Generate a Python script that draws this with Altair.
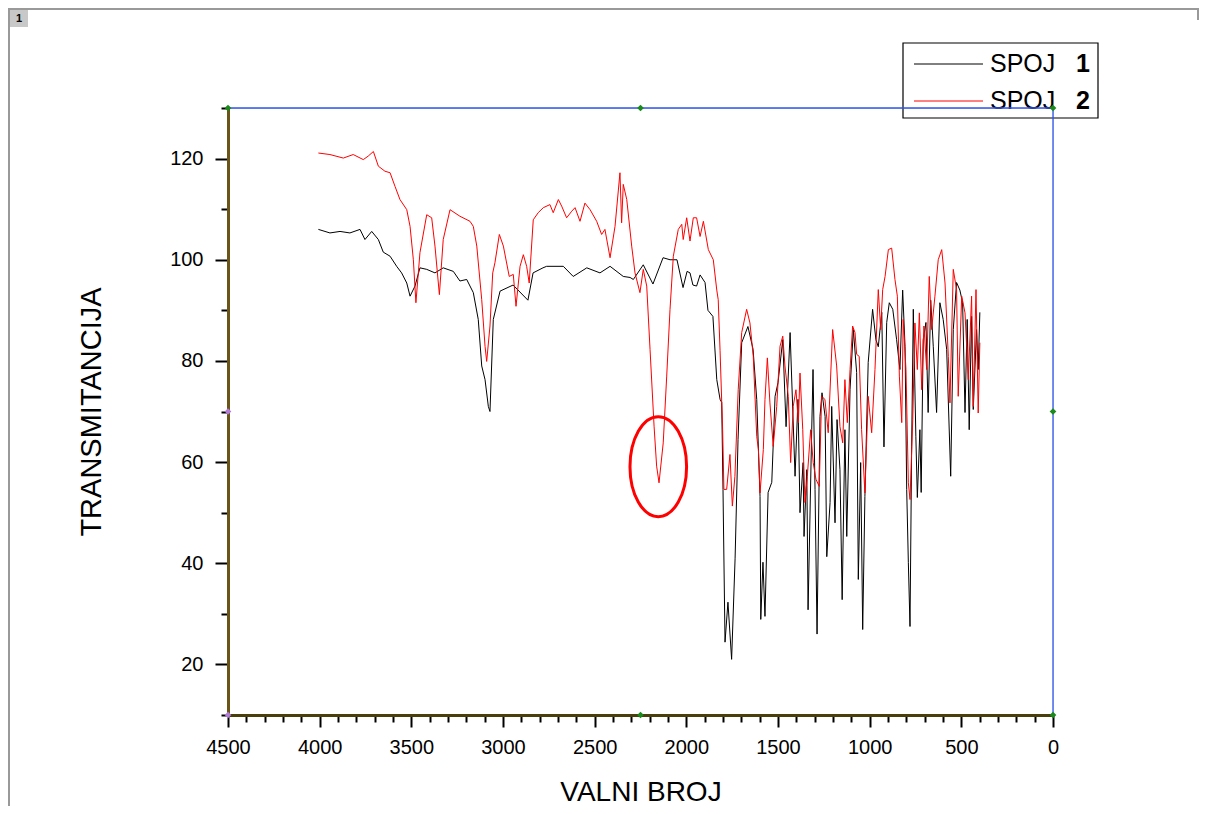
import altair as alt
import pandas as pd

# ---- SPOJ 1 (black) ----
wn1 = [4007, 3944, 3889, 3835, 3780, 3753, 3716, 3680, 3653, 3616, 3580, 3553, 3525, 3507, 3480,
       3453, 3416, 3371, 3326, 3271, 3235, 3198, 3162, 3135, 3116, 3098, 3080, 3071, 3053, 3016,
       2945, 2864, 2836, 2782, 2762, 2671, 2617, 2543, 2471, 2416, 2344, 2307, 2289, 2235, 2182,
       2127, 2089, 2051, 2018, 1996, 1980, 1964, 1944, 1925, 1898, 1882, 1855, 1834, 1816, 1807,
       1800, 1789, 1773, 1753, 1734, 1718, 1698, 1664, 1636, 1616, 1598, 1594, 1582, 1571, 1554,
       1534, 1516, 1500, 1474, 1456, 1434, 1407, 1391, 1380, 1363, 1358, 1343, 1336, 1316, 1309,
       1298, 1287, 1271, 1260, 1243, 1234, 1216, 1207, 1189, 1178, 1162, 1150, 1135, 1125, 1107,
       1089, 1071, 1062, 1049, 1038, 1026, 1008, 984, 966, 953, 934, 922, 907, 893, 874,
       853, 835, 820, 807, 798, 789, 780, 771, 762, 748, 740, 726, 719, 708, 693,
       681, 667, 653, 635, 617, 599, 580, 558, 544, 526, 508, 493, 480, 468, 457,
       444, 435, 417, 408, 399]
t1 = [106.0, 105.3, 105.6, 105.3, 106.0, 104.0, 105.6, 104.0, 101.5, 100.7, 98.7, 97.4, 95.4, 92.8, 94.8,
      98.4, 98.1, 97.4, 98.4, 97.7, 95.8, 96.1, 93.5, 88.2, 79.0, 76.3, 71.0, 70.0, 88.2, 93.8,
      95.0, 92.0, 97.4, 98.4, 98.7, 98.7, 96.7, 98.4, 97.4, 98.7, 96.7, 96.5, 96.1, 99.0, 95.2,
      100.4, 100.0, 100.0, 94.5, 97.7, 97.4, 95.0, 94.8, 97.0, 95.5, 90.0, 88.8, 76.3, 72.4, 71.8,
      54.6, 24.4, 32.3, 21.0, 41.0, 64.5, 83.6, 86.8, 82.3, 72.4, 53.2, 28.9, 40.2, 29.5, 54.0,
      56.0, 73.0, 75.7, 84.2, 67.0, 85.6, 57.2, 72.4, 50.0, 59.9, 45.3, 58.5, 30.8, 66.4, 78.3,
      54.6, 26.0, 69.0, 73.7, 69.0, 41.3, 52.0, 71.0, 48.0, 68.4, 58.5, 32.8, 66.4, 45.3, 74.4,
      86.2, 77.7, 36.8, 59.9, 26.9, 53.2, 79.7, 90.2, 84.2, 82.8, 89.6, 63.0, 87.6, 91.5, 90.2,
      84.2, 78.3, 94.0, 82.8, 54.6, 40.1, 27.5, 63.0, 90.2, 65.0, 53.0, 66.4, 54.0, 84.2, 87.6,
      69.8, 92.0, 82.8, 69.8, 91.5, 88.2, 82.3, 57.2, 86.2, 95.5, 94.0, 91.5, 69.8, 88.2, 66.4,
      88.8, 70.4, 86.2, 78.3, 89.6]

# ---- SPOJ 2 (red) ----
wn2 = [4007, 3944, 3871, 3817, 3762, 3735, 3707, 3680, 3644, 3616, 3589, 3562, 3525, 3507, 3489,
       3475, 3453, 3416, 3389, 3371, 3347, 3326, 3289, 3235, 3180, 3162, 3143, 3116, 3098, 3089,
       3071, 3056, 3044, 3020, 2998, 2966, 2944, 2929, 2907, 2889, 2871, 2857, 2835, 2808, 2780,
       2744, 2726, 2698, 2680, 2653, 2625, 2607, 2580, 2553, 2525, 2489, 2462, 2444, 2416, 2389,
       2362, 2353, 2344, 2325, 2298, 2280, 2253, 2235, 2216, 2198, 2176, 2162, 2149, 2126, 2107,
       2089, 2071, 2044, 2025, 2017, 1998, 1980, 1962, 1944, 1925, 1907, 1880, 1853, 1834, 1826,
       1816, 1802, 1795, 1780, 1762, 1749, 1735, 1717, 1698, 1671, 1653, 1635, 1616, 1607, 1598,
       1580, 1571, 1558, 1544, 1526, 1507, 1489, 1474, 1462, 1444, 1431, 1417, 1402, 1389, 1380,
       1365, 1353, 1340, 1322, 1308, 1293, 1275, 1262, 1244, 1226, 1202, 1180, 1162, 1147, 1135,
       1122, 1107, 1093, 1080, 1071, 1057, 1044, 1026, 1008, 989, 971, 953, 940, 929, 916,
       898, 880, 862, 849, 838, 825, 817, 802, 789, 780, 765, 753, 740, 729, 716,
       704, 689, 675, 662, 644, 626, 607, 589, 571, 562, 544, 526, 517, 498, 480,
       462, 444, 435, 420, 408, 399]
t2 = [121.1, 120.8, 120.1, 120.8, 119.8, 120.5, 121.4, 118.5, 117.5, 117.2, 114.5, 111.9, 109.9, 106.6, 100.0,
      91.5, 101.4, 108.9, 108.3, 102.7, 93.1, 104.0, 109.9, 108.6, 107.6, 106.6, 102.7, 92.1, 82.9, 79.9,
      86.9, 97.4, 99.4, 105.0, 102.7, 96.7, 97.1, 90.8, 98.7, 101.0, 98.7, 95.4, 107.9, 109.3, 110.3,
      110.9, 109.3, 111.9, 110.6, 108.3, 109.6, 110.3, 107.6, 111.2, 109.9, 107.6, 105.0, 106.0, 100.4, 106.6,
      117.2, 107.3, 114.9, 111.9, 102.7, 97.4, 93.5, 98.1, 94.8, 82.3, 67.1, 59.2, 55.9, 63.8, 77.0,
      90.2, 100.7, 106.0, 107.0, 104.0, 108.3, 103.7, 108.3, 108.3, 104.6, 107.6, 102.0, 100.0, 94.0, 92.1,
      82.0, 66.4, 54.6, 54.6, 61.5, 51.3, 57.2, 74.3, 85.6, 90.2, 87.5, 80.9, 65.1, 62.5, 53.9,
      62.5, 72.4, 80.6, 71.7, 63.1, 71.0, 82.9, 84.9, 79.0, 73.0, 59.9, 71.0, 74.3, 67.8, 77.6,
      66.4, 52.0, 57.2, 66.4, 59.9, 56.6, 55.2, 73.0, 72.4, 65.8, 86.2, 79.0, 67.0, 63.8, 76.3,
      67.8, 78.3, 86.9, 85.6, 81.3, 80.9, 66.4, 53.9, 73.0, 65.8, 78.3, 94.1, 86.2, 94.1, 96.7,
      102.0, 102.3, 96.1, 92.8, 77.0, 67.8, 88.2, 78.3, 55.9, 52.6, 68.4, 87.5, 78.3, 89.5, 74.3,
      86.9, 78.3, 96.7, 86.2, 92.8, 100.0, 102.0, 95.4, 80.9, 71.7, 98.1, 94.1, 73.0, 92.8, 89.5,
      76.3, 92.8, 71.0, 94.1, 69.7, 83.6]

series_names = ["SPOJ 1", "SPOJ 2"]
series_colors = ["#000000", "#ff0000"]
x_ticks = list(range(0, 4501, 100))
y_ticks = list(range(10, 131, 10))

# annotation ellipse centre (data units)
ellipse_x = [2153]
ellipse_y = [59.1]

# Origin-style selection handles on the frame
green_hx = [4500, 2250, 0, 0, 2250, 0]
green_hy = [130, 130, 130, 70, 10, 10]
purple_hx = [4500, 4500]
purple_hy = [70, 10]

df = pd.concat([
    pd.DataFrame({"wn": wn1, "T": t1, "s": series_names[0]}),
    pd.DataFrame({"wn": wn2, "T": t2, "s": series_names[1]}),
])

W, H = 825, 607
xs = alt.Scale(domain=[4500, 0], nice=False, zero=False)
ys = alt.Scale(domain=[10, 130], nice=False, zero=False)
FONT = "Liberation Sans"
BLUE = "#2f55ee"

x_axis = alt.Axis(
    values=x_ticks, title="VALNI BROJ", grid=False,
    labelExpr="datum.value % 500 === 0 ? datum.label : ''",
    labelOverlap=False, labelFlush=False,
    tickSize={"condition": {"test": "datum.value % 500 === 0", "value": 12}, "value": 7},
    tickWidth=2, tickColor="#000000",
    domainColor="#4a3e0a", domainWidth=3,
    labelFont=FONT, labelFontSize=20, labelColor="#000000", labelPadding=10,
    titleFont=FONT, titleFontSize=28, titleFontWeight="normal", titleColor="#000000", titlePadding=21,
    format="d",
)
y_axis = alt.Axis(
    values=y_ticks, title="TRANSMITANCIJA", grid=False,
    labelExpr="datum.value % 20 === 0 ? datum.label : ''",
    labelOverlap=False, labelFlush=False,
    tickSize={"condition": {"test": "datum.value % 20 === 0", "value": 13}, "value": 7},
    tickWidth=2, tickColor="#000000",
    domainColor="#6b5516", domainWidth=3,
    labelFont=FONT, labelFontSize=20, labelColor="#000000", labelPadding=12,
    titleFont=FONT, titleFontSize=29, titleFontWeight="normal", titleColor="#000000", titlePadding=63,
)


def X(field):
    return alt.X(field, scale=xs, axis=x_axis)


def Y(field):
    return alt.Y(field, scale=ys, axis=y_axis)


lines = alt.Chart(df).mark_line(strokeWidth=1, clip=True).encode(
    x=X("wn:Q"),
    y=Y("T:Q"),
    color=alt.Color("s:N", scale=alt.Scale(domain=series_names, range=series_colors), legend=None),
    order=alt.Order("wn:Q", sort="descending"),
)

ellipse = alt.Chart(pd.DataFrame({"x": ellipse_x, "y": ellipse_y})).mark_point(
    shape="M -0.566,0 A 0.566,1 0 1,0 0.566,0 A 0.566,1 0 1,0 -0.566,0 Z",
    size=10000, filled=False, stroke="#ff0000", strokeWidth=3, opacity=1,
).encode(x=X("x:Q"), y=Y("y:Q"))

handles_g = alt.Chart(pd.DataFrame({"x": green_hx, "y": green_hy})).mark_point(
    shape="diamond", size=45, filled=True, opacity=1, color="#1a8a1a",
).encode(x=X("x:Q"), y=Y("y:Q"))
handles_p = alt.Chart(pd.DataFrame({"x": purple_hx, "y": purple_hy})).mark_point(
    shape="diamond", size=45, filled=True, opacity=1, color="#b07cd8",
).encode(x=X("x:Q"), y=Y("y:Q"))

# top and right frame of the plot (blue)
frame_plot_top = alt.Chart().mark_rule(color=BLUE, strokeWidth=1.3).encode(
    x=alt.value(0), x2=alt.value(W), y=alt.value(0))
frame_plot_right = alt.Chart().mark_rule(color=BLUE, strokeWidth=1.3).encode(
    x=alt.value(W), y=alt.value(0), y2=alt.value(H))

# page frame of the original graph window
frame_top = alt.Chart().mark_rule(color="#999999", strokeWidth=2).encode(
    x=alt.value(-220), x2=alt.value(971), y=alt.value(-99))
frame_left = alt.Chart().mark_rule(color="#999999", strokeWidth=2).encode(
    x=alt.value(-219), y=alt.value(-100), y2=alt.value(720))
frame_right = alt.Chart().mark_rule(color="#999999", strokeWidth=2).encode(
    x=alt.value(970), y=alt.value(-100), y2=alt.value(-88))
tab_box = alt.Chart().mark_rect(color="#c8c8c8").encode(
    x=alt.value(-218), x2=alt.value(-200), y=alt.value(-98), y2=alt.value(-81))
tab_txt = alt.Chart().mark_text(text="1", font=FONT, fontSize=11, fontWeight="bold", color="#000000").encode(
    x=alt.value(-209), y=alt.value(-89.5))

# legend box
leg_box = alt.Chart().mark_rect(fill=None, fillOpacity=0, stroke="#000000", strokeWidth=1.2).encode(
    x=alt.value(675), x2=alt.value(870), y=alt.value(-65), y2=alt.value(10))
legend_layers = [leg_box]
for i, (nm, col) in enumerate(zip(series_names, series_colors)):
    yy = -44 + i * 37
    word, num = nm.split(" ")
    legend_layers.append(alt.Chart().mark_rule(color=col, strokeWidth=1).encode(
        x=alt.value(686), x2=alt.value(755), y=alt.value(yy)))
    legend_layers.append(alt.Chart().mark_text(text=word, align="left", baseline="middle", font=FONT,
                                               fontSize=25, color="#000000").encode(
        x=alt.value(762), y=alt.value(yy)))
    legend_layers.append(alt.Chart().mark_text(text=num, align="left", baseline="middle", font=FONT,
                                               fontSize=25, fontWeight="bold", color="#000000").encode(
        x=alt.value(848), y=alt.value(yy)))

chart = alt.layer(
    frame_top, frame_left, frame_right, tab_box, tab_txt,
    lines, ellipse, *legend_layers, frame_plot_top, frame_plot_right, handles_g, handles_p,
).properties(
    width=W, height=H,
    autosize=alt.AutoSizeParams(type="none"),
    padding={"left": 220, "top": 100, "right": 146, "bottom": 91},
).configure_view(
    strokeWidth=0,
).configure(background="#ffffff")

chart.save("out.html", embed_options={"renderer": "svg", "actions": False})
